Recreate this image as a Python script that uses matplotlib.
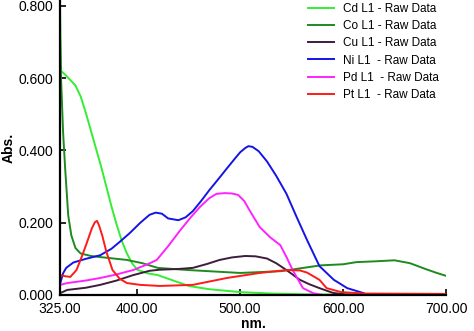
#!/usr/bin/env python
"""
UV-Vis absorbance spectra of the L1 complexes (Cd, Co, Cu, Ni, Pd, Pt).
"""
import matplotlib
matplotlib.use("Agg")
import matplotlib.pyplot as plt

# wavelength (nm) / absorbance pairs
cd_nm = [325, 326, 330, 340, 345, 350, 355, 360, 365, 370, 375, 380, 385, 390,
         395, 400, 410, 420, 435, 450, 470, 500, 530, 560, 600, 620]
cd_abs = [0.800, 0.620, 0.610, 0.580, 0.550, 0.505, 0.455, 0.405, 0.355, 0.300,
          0.245, 0.195, 0.150, 0.115, 0.088, 0.070, 0.060, 0.055, 0.040, 0.025,
          0.016, 0.008, 0.004, 0.002, 0.001, 0.000]

co_nm = [325, 326, 328, 330, 333, 336, 340, 345, 355, 364, 390, 405, 420, 450,
         500, 540, 578, 600, 613, 630, 650, 665, 680, 690, 700]
co_abs = [0.720, 0.600, 0.450, 0.350, 0.220, 0.165, 0.130, 0.115, 0.108, 0.105,
          0.097, 0.088, 0.075, 0.069, 0.061, 0.066, 0.082, 0.085, 0.091, 0.093,
          0.096, 0.088, 0.072, 0.062, 0.053]

cu_nm = [325, 332, 350, 364, 380, 396, 412, 422, 440, 454, 468, 480, 492, 505,
         515, 526, 535, 545, 558, 567, 577, 590, 600, 620]
cu_abs = [0.005, 0.014, 0.020, 0.028, 0.040, 0.055, 0.067, 0.070, 0.072, 0.075,
          0.086, 0.097, 0.104, 0.108, 0.107, 0.101, 0.088, 0.069, 0.042, 0.030,
          0.019, 0.006, 0.002, 0.000]

ni_nm = [325, 328, 331, 338, 350, 364, 375, 383, 393, 403, 412, 418, 424, 430,
         440, 447, 454, 462, 470, 480, 487, 495, 500, 505, 508, 512, 518, 526,
         535, 545, 555, 565, 577, 591, 604, 620]
ni_abs = [0.030, 0.060, 0.075, 0.090, 0.100, 0.110, 0.128, 0.147, 0.172, 0.200,
          0.222, 0.228, 0.225, 0.212, 0.207, 0.215, 0.232, 0.260, 0.290, 0.325,
          0.350, 0.378, 0.395, 0.407, 0.412, 0.410, 0.398, 0.370, 0.330, 0.280,
          0.215, 0.152, 0.080, 0.042, 0.019, 0.005]

pd_nm = [325, 332, 350, 364, 380, 396, 410, 419, 430, 442, 452, 461, 470, 477,
         485, 492, 498, 504, 509, 519, 529, 539, 545, 551, 561, 571, 580]
pd_abs = [0.028, 0.033, 0.040, 0.047, 0.057, 0.069, 0.085, 0.097, 0.135, 0.180,
          0.215, 0.244, 0.268, 0.280, 0.282, 0.281, 0.277, 0.260, 0.235, 0.188,
          0.160, 0.138, 0.105, 0.069, 0.019, 0.005, 0.000]

pt_nm = [325, 330, 335, 341, 346, 351, 356, 359, 361, 363, 366, 370, 376, 383,
         390, 403, 422, 454, 487, 519, 545, 558, 565, 577, 584, 598, 620, 700]
pt_abs = [0.055, 0.052, 0.050, 0.069, 0.105, 0.144, 0.185, 0.202, 0.205, 0.192,
          0.165, 0.120, 0.069, 0.045, 0.033, 0.028, 0.025, 0.028, 0.047, 0.061,
          0.069, 0.068, 0.062, 0.042, 0.019, 0.008, 0.004, 0.003]

series = [
    ("Cd L1 - Raw Data", cd_nm, cd_abs, "#33ee33"),
    ("Co L1 - Raw Data", co_nm, co_abs, "#1e8a1e"),
    ("Cu L1 - Raw Data", cu_nm, cu_abs, "#3c1e3c"),
    ("Ni L1  - Raw Data", ni_nm, ni_abs, "#1414e6"),
    ("Pd L1  - Raw Data", pd_nm, pd_abs, "#ff22ff"),
    ("Pt L1  - Raw Data", pt_nm, pt_abs, "#ff1a1a"),
]

x_ticks = [325, 400, 500, 600, 700]
y_ticks = [0.0, 0.2, 0.4, 0.6, 0.8]


def main():
    plt.rcParams['font.family'] = "sans-serif"
    plt.rcParams['font.sans-serif'] = ["Liberation Sans", "DejaVu Sans"]

    fig = plt.figure(figsize=(4.74, 3.31), dpi=100)
    ax = fig.add_axes([0.1266, 0.1088, 0.8144, 0.8912])

    for label, nm, absb, col in series:
        ax.plot(nm, absb, color=col, lw=1.4, label=label)

    ax.set_xlim(325, 700)
    ax.set_ylim(0, 0.8166)
    ax.set_xticks(x_ticks)
    ax.set_xticklabels(["%.2f" % v for v in x_ticks])
    ax.set_yticks(y_ticks)
    ax.set_yticklabels(["%.3f" % v for v in y_ticks])
    ax.tick_params(direction="in", length=4, width=1.2, labelsize=10,
                   colors="black")
    ax.tick_params(axis="x", pad=5)
    ax.tick_params(axis="y", pad=5)

    for side in ("top", "right"):
        ax.spines[side].set_visible(False)
    for side in ("left", "bottom"):
        ax.spines[side].set_linewidth(1.6)

    ax.set_xlabel("nm.", fontsize=10, fontweight="bold", labelpad=1)
    ax.set_ylabel("Abs.", fontsize=10, fontweight="bold", labelpad=2)

    ax.legend(loc="upper left", bbox_to_anchor=(0.63, 1.007), frameon=False,
              fontsize=8.5, handlelength=2.2, handletextpad=0.8,
              labelspacing=0.45, borderaxespad=0)

    fig.savefig("out.png", dpi=100)


if __name__ == "__main__":
    main()
